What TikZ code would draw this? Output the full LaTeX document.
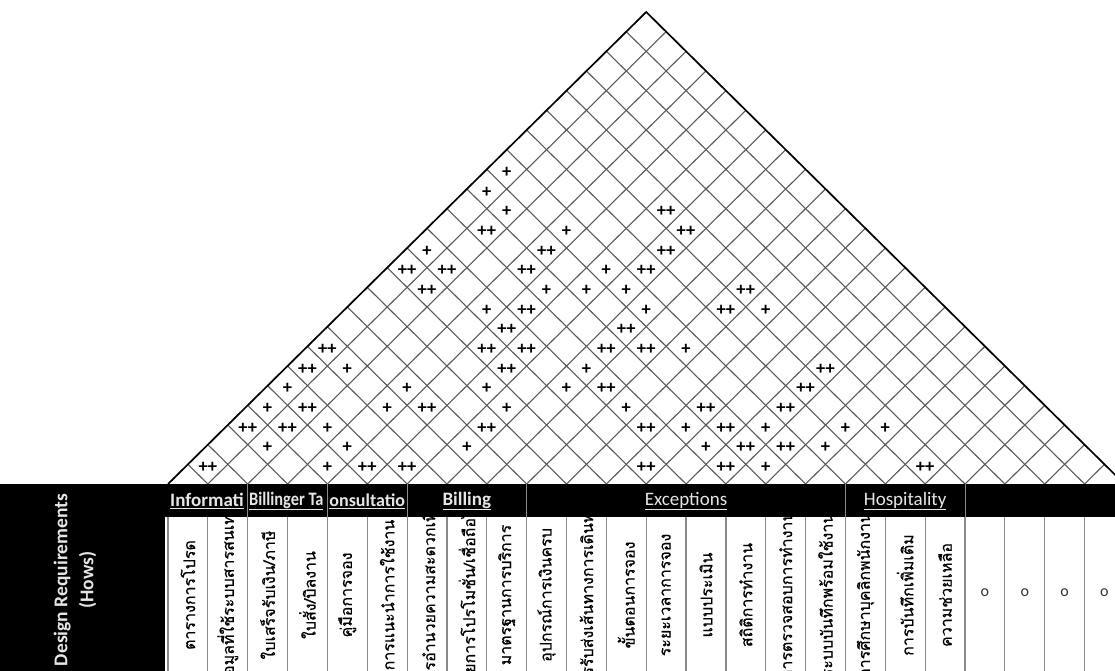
\documentclass[tikz,border=0pt]{standalone}
\usepackage{fontspec}
\setmainfont{Carlito}
\newfontfamily\thai[Script=Thai,FakeBold=0.4]{Loma}
\definecolor{gridgray}{HTML}{5A5A5A}
\definecolor{sepgray}{HTML}{8A8A8A}
\definecolor{catwhite}{HTML}{E6E6E6}
\begin{document}
\begin{tikzpicture}[x=1pt,y=-1pt,
  grid/.style={draw=gridgray,line width=1.1pt},
  roofedge/.style={draw=black,line width=1.7pt},
  corr/.style={font=\bfseries\fontsize{18.5}{18.5}\selectfont,inner sep=0pt},
  cat/.style={font=\fontsize{19}{20}\selectfont,text=catwhite,inner sep=0pt},
  catb/.style={font=\bfseries\fontsize{19}{20}\selectfont,text=catwhite,inner sep=0pt},
  req/.style={font=\thai\fontsize{16}{16}\selectfont,rotate=90,inner sep=0pt,text=black},
  circ/.style={font=\fontsize{16}{16}\selectfont,inner sep=0pt,text=black!80},
  colsep/.style={draw=sepgray,line width=1.2pt},
  hdrsep/.style={draw=sepgray,line width=1pt}]
\useasboundingbox (0,0) rectangle (1115,671);
\clip (0,0) rectangle (1115,671);
\fill[white] (0,0) rectangle (1115,671);
% roof grid
\foreach \k in {1,...,23}{
  \pgfmathsetmacro\xk{168+39.85*\k}
  \draw[grid] (\xk,484) -- ({(\xk+1124.4)/2},{484-(1124.4-\xk)/2*0.98704});
  \draw[grid] (\xk,484) -- ({(168+\xk)/2},{484-(\xk-168)/2*0.98704});
}
\draw[roofedge] (168,484) -- (646.2,12) -- (1124.4,484);
% correlation symbols
\foreach \i/\j/\s in {0/16/+,0/15/+,1/15/+,1/14/++,3/16/+,5/19/++,6/19/++,0/12/+,3/15/++,6/18/++,
  0/11/++,1/12/++,3/14/++,5/16/+,6/17/++,1/11/++,4/14/+,5/15/+,6/16/+,3/12/+,4/13/++,7/16/+,
  9/18/++,4/12/++,7/15/++,4/11/++,5/12/++,7/14/++,8/15/++,9/16/+,5/11/++,7/13/+,5/10/+,7/12/+,
  8/13/++,6/10/+,9/13/+,11/15/++,6/9/++,10/13/++,11/14/+,12/15/++,6/8/+,12/14/+,11/12/++,
  13/14/++,0/7/++,0/6/++,1/7/+,0/5/+,3/8/+,0/4/+,1/5/++,3/7/+,4/8/++,0/3/++,1/4/++,2/5/+,
  1/3/+,3/5/+,0/1/++,3/4/+,4/5/++,5/6/++,13/19/++,13/18/++,13/17/++,13/16/+,15/18/+,16/19/+,
  13/15/++,14/16/++,15/17/+,14/15/+,18/19/++,9/19/++,10/19/+}{
  \node[corr] (c\i x\j) at ({187.9+19.925*(\i+\j)},{487-19.67*(\j-\i)}) {\s};
}
% black header
\fill[black] (0,484) rectangle (1115,517);
\fill[black] (0,484) rectangle (165,671);
% column separators
\foreach \k in {0,...,24}{
  \draw[colsep] ({168+39.85*\k},517) -- ({168+39.85*\k},671);
}
\foreach \k in {2,4,6,9,17,20}{
  \draw[hdrsep] ({168+39.85*\k},484) -- ({168+39.85*\k},517);
}
% category labels (as far as they are visible in their cells)
\node[catb,anchor=west] (catinfo) at (170,501) {\underline{Informati}};
\node[catb,anchor=west] (catbill) at (249,501) {\scalebox{0.86}[1]{\underline{Billinger Ta}}};
\node[catb,font=\bfseries\fontsize{18}{20}\selectfont] (catcons) at (367.2,501) {\underline{onsultatio}};
\node[catb] (catbilling) at (466.8,501) {\underline{Billing}};
\node[cat] (catexc) at (686,501) {\underline{Exceptions}};
\node[cat] (cathosp) at (905.2,501) {\underline{Hospitality}};
% left title
\node[rotate=90,text=catwhite,font=\bfseries\fontsize{19.5}{26}\selectfont,align=center,inner sep=0pt] (title) at (75,580) {Design Requirements\\(Hows)};
% requirement labels
\foreach \k/\t in {0/{ตารางการโปรด},1/{ข้อมูลที่ใช้ระบบสารสนเทศ},2/{ใบเสร็จรับเงิน/ภาษี},3/{ใบสั่ง/บิลงาน},
  4/{คู่มือการจอง},5/{การแนะนำการใช้งาน},6/{การอำนวยความสะดวกเพิ่ม},7/{รายการโปรโมชั่น/เชื่อถือได้},
  8/{มาตรฐานการบริการ},9/{อุปกรณ์การเงินครบ},10/{การรับส่งเส้นทางการเดินทาง},11/{ขั้นตอนการจอง},
  12/{ระยะเวลาการจอง},13/{แบบประเมิน},14/{สถิติการทำงาน},15/{การตรวจสอบการทำงาน},
  16/{ระบบบันทึกพร้อมใช้งาน},17/{การศึกษาบุคลิกพนักงาน},18/{การบันทึกเพิ่มเติม},19/{ความช่วยเหลือ}}{
  \begin{scope}
    \clip ({168+39.85*\k+0.6},517) rectangle ({168+39.85*(\k+1)-0.6},671);
    \node[req] (r\k) at ({187.9+39.85*\k},595) {\makebox[150pt][c]{\t}};
  \end{scope}
}
\foreach \k in {20,...,23}{
  \node[circ] (o\k) at ({187.9+39.85*\k},593) {o};
}
\end{tikzpicture}
\end{document}
